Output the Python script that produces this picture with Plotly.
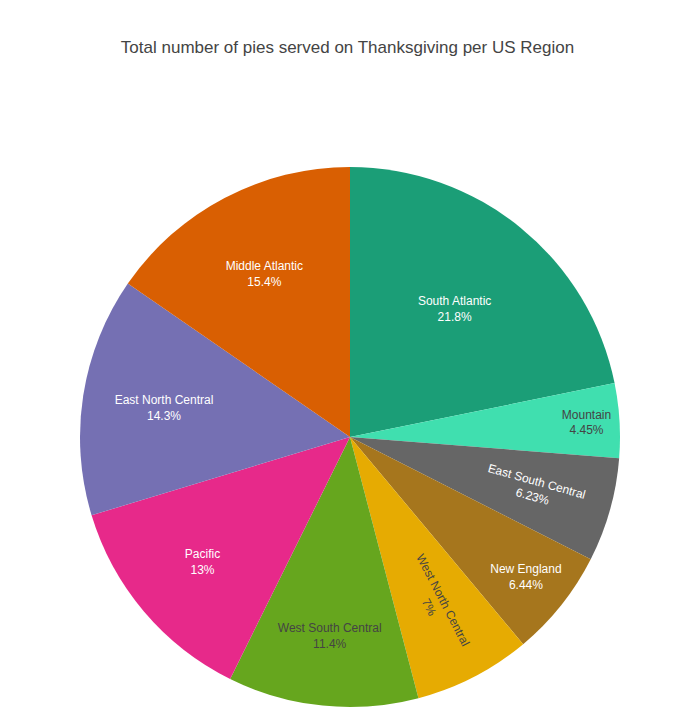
import plotly.graph_objects as go

regions = ["South Atlantic", "Mountain", "East South Central", "New England",
           "West North Central", "West South Central", "Pacific",
           "East North Central", "Middle Atlantic"]
pies = [21.8, 4.45, 6.23, 6.44, 7.0, 11.4, 13.0, 14.3, 15.38]
colors = ["#1b9e77", "#40dfaf", "#666666", "#a6761d", "#e6ab02",
          "#66a61e", "#e7298a", "#7570b3", "#d95f02"]

fig = go.Figure(go.Pie(
    labels=regions,
    values=pies,
    sort=False,
    direction="clockwise",
    textinfo="label+percent",
    marker=dict(colors=colors),
    showlegend=False,
))

fig.update_layout(
    width=695, height=727,
    font=dict(family="Arial, Liberation Sans, sans-serif"),
    title=dict(text="Total number of pies served on Thanksgiving per US Region",
               x=0.5, xanchor="center", y=1 - 47 / 727, yanchor="middle",
               font=dict(size=17, color="#444")),
    margin=dict(l=80, r=75, t=167, b=20),
    paper_bgcolor="white",
)

fig.write_html("out.html")
